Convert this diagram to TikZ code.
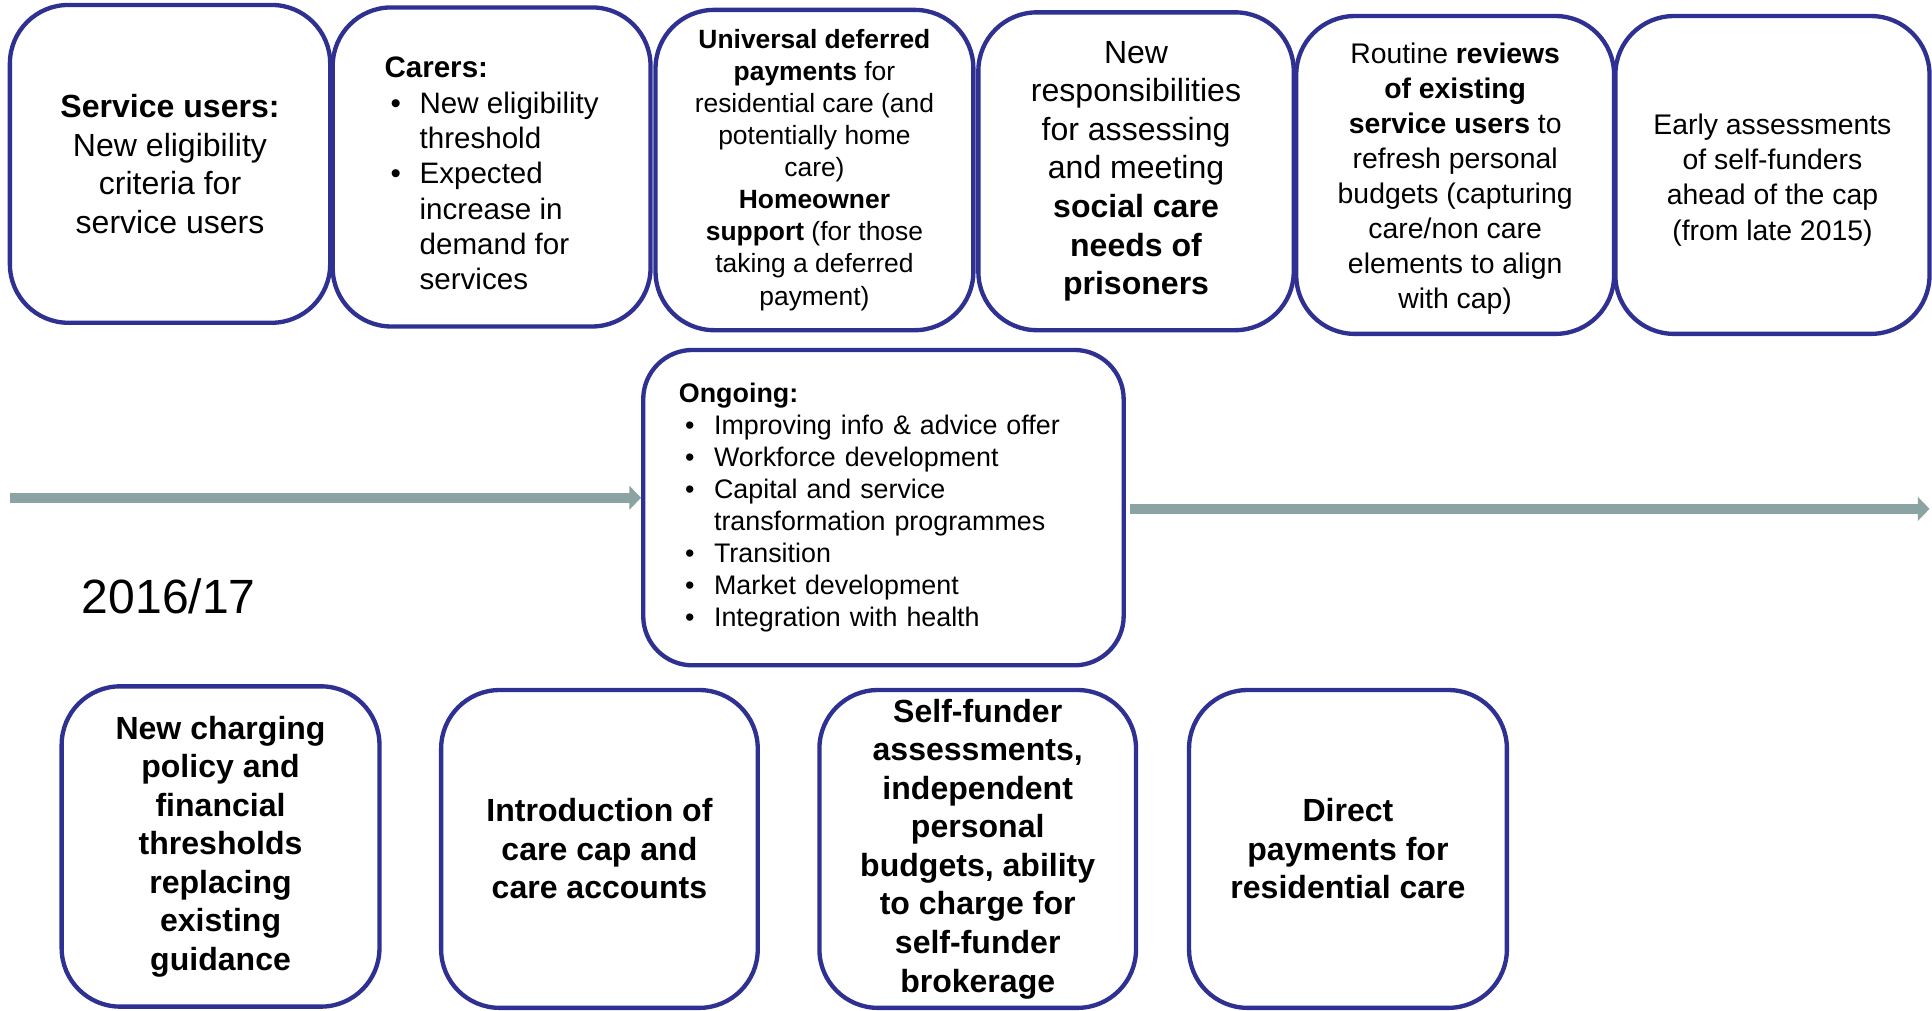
\documentclass[tikz,border=0pt]{standalone}
\usepackage{fontspec}
\setmainfont{Liberation Sans}
\usetikzlibrary{arrows.meta}
\definecolor{boxnavy}{RGB}{46,49,146}
\definecolor{linegray}{RGB}{139,163,163}
\newcommand{\bul}{\makebox[0.57cm][l]{\hspace{0.1cm}\textbullet}}
\newcommand{\ind}{\hspace*{0.57cm}}

\begin{document}
\begin{tikzpicture}[x=0.02cm, y=-0.02cm,
    card/.style={draw=boxnavy, line width=2pt, rounded corners=0.95cm, align=center,
      inner sep=0pt, minimum width=5.16cm, minimum height=5.16cm},
    bigtxt/.style={font=\fontsize{14.8}{17.8}\selectfont},
    boldtxt/.style={font=\bfseries\fontsize{14.8}{17.8}\selectfont},
    midtxt/.style={font=\fontsize{13.1}{16.2}\selectfont},
    smalltxt/.style={font=\fontsize{12.2}{14.8}\selectfont},
    timeline/.style={linegray, line width=4.5pt, -{Triangle[width=0.38cm, length=0.19cm]}}]
      \useasboundingbox (0,0) rectangle (1568,820);

      % Верхній ряд
      \node[card, bigtxt, minimum width=5.2cm] (users) at (138,133)
        {\textbf{Service users:}\\ New eligibility\\ criteria for\\ service users};
      \node[card, align=left, font=\fontsize{13.66}{16.3}\selectfont, minimum height=5.18cm] (carers) at (399,135.5)
        {\rule{0pt}{0.55cm}\textbf{Carers:}\\ \bul New eligibility\\ \ind threshold\\ \bul Expected\\ \ind increase in\\ \ind demand for\\ \ind services};
      \node[card, smalltxt, minimum height=5.2cm] (deferred) at (661,138)
        {\textbf{Universal deferred}\\ \textbf{payments} for\\ residential care (and\\ potentially home\\ care)\\
         \textbf{Homeowner}\\ \textbf{support} (for those\\ taking a deferred\\ payment)};
      \node[card, bigtxt, minimum width=5.12cm] (prisoners) at (922,139)
        {New\\ responsibilities\\ for assessing\\ and meeting\\ \textbf{social care}\\ \textbf{needs of}\\ \textbf{prisoners}};
      \node[card, midtxt] (reviews) at (1181,142)
        {\rule{0pt}{0.45cm}Routine \textbf{reviews}\\ \textbf{of existing}\\ \textbf{service users} to\\ refresh personal\\ budgets (capturing\\
         care/non care\\ elements to align\\ with cap)};
      \node[card, midtxt, minimum width=5.1cm] (early) at (1438.5,142)
        {\rule{0pt}{0.5cm}Early assessments\\ of self-funders\\ ahead of the cap\\ (from late 2015)};

      % Поточна робота
      \node[card, align=left, font=\fontsize{12.4}{14.8}\selectfont, text width=6.64cm,
        minimum width=7.8cm, minimum height=5.12cm, rounded corners=0.8cm] (ongoing) at (717,412)
        {\textbf{Ongoing:}\\ \bul Improving info \& advice offer\\ \bul Workforce development\\
         \bul Capital and service\\ \ind transformation programmes\\ \bul Transition\\
         \bul Market development\\ \bul Integration with health};

      % Часова вісь
      \coordinate (tlstart) at (8,404);
      \coordinate (tlend) at (1566,413);
      \draw[timeline] (tlstart) -- (tlstart -| ongoing.west);
      \draw[timeline, shorten <=0.06cm] (ongoing.east |- tlend) -- (tlend);

      \node[font=\fontsize{22.2}{26}\selectfont] (year) at (137,484) {2016/17};

      % Нижній ряд
      \node[card, boldtxt, minimum height=5.2cm] (charging) at (179,687)
        {New charging\\ policy and\\ financial\\ thresholds\\ replacing\\ existing\\ guidance};
      \node[card, boldtxt, minimum width=5.14cm] (cap) at (486.5,689)
        {Introduction of\\ care cap and\\ care accounts};
      \node[card, boldtxt, minimum width=5.14cm] (selffunder) at (793.5,689)
        {Self-funder\\ assessments,\\ independent\\ personal\\ budgets, ability\\ to charge for\\ self-funder\\ brokerage};
      \node[card, boldtxt] (direct) at (1094,689)
        {Direct\\ payments for\\ residential care};
    \end{tikzpicture}
\end{document}
